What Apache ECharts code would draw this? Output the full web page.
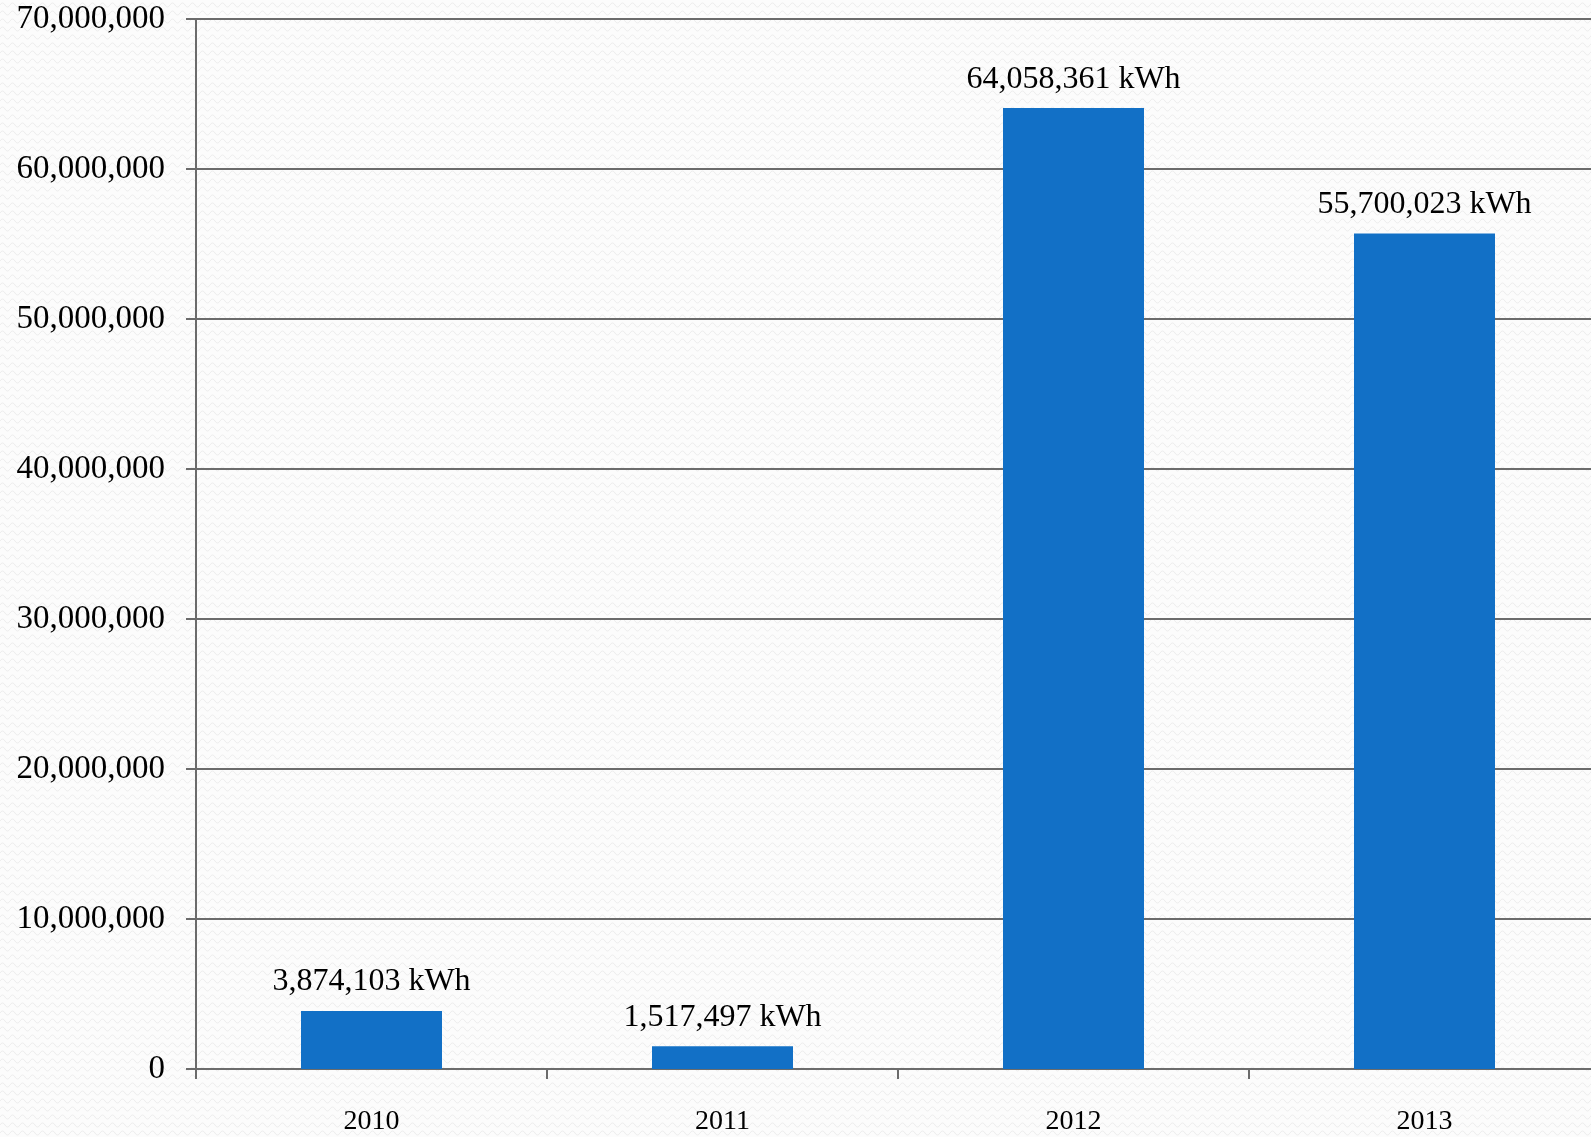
<!DOCTYPE html>
<html>
<head>
<meta charset="utf-8">
<script src="https://cdn.jsdelivr.net/npm/echarts@6/dist/echarts.min.js"></script>
<style>
  html, body { margin: 0; padding: 0; }
  #chart { width: 1591px; height: 1137px; }
</style>
</head>
<body>
<div id="chart"></div>
<script>
// data
const years = ["2010", "2011", "2012", "2013"];
const energyKwh = [3874103, 1517497, 64058361, 55700023];
const yTicks = [0, 10000000, 20000000, 30000000, 40000000, 50000000, 60000000, 70000000];

const fmt = (v) => v.toLocaleString("en-US");

// faint wavy paper texture for the background
const makePattern = () => {
  const c = document.createElement("canvas");
  c.width = 10;
  c.height = 8;
  const ctx = c.getContext("2d");
  ctx.fillStyle = "#fcfcfc";
  ctx.fillRect(0, 0, 10, 8);
  ctx.strokeStyle = "#ededed";
  ctx.lineWidth = 1;
  ctx.beginPath();
  ctx.moveTo(0, 5);
  ctx.quadraticCurveTo(2.5, 1, 5, 5);
  ctx.quadraticCurveTo(7.5, 9, 10, 5);
  ctx.stroke();
  return c;
};

const font = "Liberation Serif";
const axisGray = "#6b6b6b";

const myChart = echarts.init(document.getElementById("chart"));
const option = {
  backgroundColor: { image: makePattern(), repeat: "repeat" },
  animation: false,
  grid: {
    left: 196,
    width: 1404, // plot runs a little past the right edge, as in the picture
    top: 19,
    bottom: 68,
    containLabel: false,
    outerBoundsMode: "none",
  },
  xAxis: {
    type: "category",
    data: years,
    axisLine: { lineStyle: { color: axisGray, width: 2 } },
    axisTick: { show: true, length: 10, lineStyle: { color: axisGray, width: 2 } },
    axisLabel: {
      margin: 39,
      color: "#000",
      fontFamily: font,
      fontSize: 28,
    },
  },
  yAxis: {
    type: "value",
    min: yTicks[0],
    max: yTicks[yTicks.length - 1],
    interval: yTicks[1] - yTicks[0],
    axisLine: { show: true, lineStyle: { color: axisGray, width: 2 } },
    axisTick: { show: true, length: 10, lineStyle: { color: axisGray, width: 2 } },
    splitLine: { show: true, lineStyle: { color: axisGray, width: 2 } },
    axisLabel: {
      margin: 31,
      color: "#000",
      fontFamily: font,
      fontSize: 33,
      formatter: (v) => fmt(v),
    },
  },
  series: [
    {
      type: "bar",
      data: energyKwh,
      barWidth: 141,
      itemStyle: { color: "#1270c6" },
      label: {
        show: true,
        position: "top",
        distance: 13,
        color: "#000",
        fontFamily: font,
        fontSize: 32,
        formatter: (p) => fmt(p.value) + " kWh",
      },
    },
  ],
};
myChart.setOption(option);
</script>
</body>
</html>
